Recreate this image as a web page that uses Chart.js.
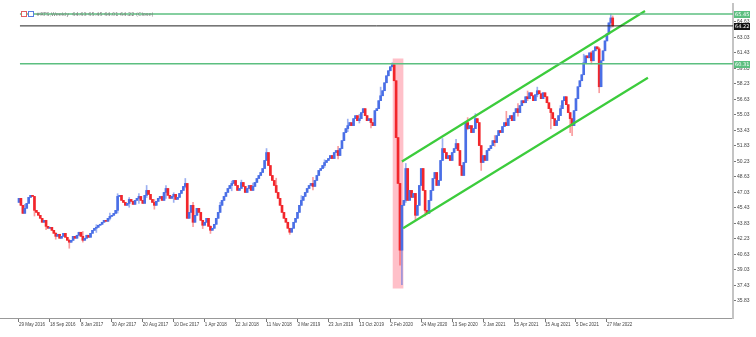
<!DOCTYPE html>
<html><head><meta charset="utf-8">
<script src="https://cdn.jsdelivr.net/npm/chart.js@4.4.0/dist/chart.umd.min.js"></script>
<style>html,body{margin:0;padding:0;background:#fff;}canvas{display:block;}</style>
</head><body>
<canvas id="c" width="756" height="337"></canvas>
<script>
// ---- data (weekly candles, week index 0 = 29 May 2016) ----
const firstOpen = 46.0;
const closes = [
46.42,45.70,44.87,45.39,45.90,46.52,46.73,46.62,45.18,44.97,44.67,
44.36,43.95,44.15,43.53,43.33,43.43,43.12,42.81,42.50,42.71,
42.30,42.50,42.81,42.40,42.09,41.89,42.09,42.50,42.30,42.61,
42.92,42.50,42.09,42.30,42.61,42.40,42.81,43.12,43.33,43.43,
43.64,43.74,43.95,44.15,44.05,44.36,44.56,44.67,44.87,45.18,
46.62,46.73,46.21,46.00,45.70,45.90,46.31,46.11,45.80,46.21,
46.42,46.62,46.21,45.90,46.73,47.24,46.83,46.31,46.00,45.70,
46.11,46.42,46.62,46.21,47.03,47.44,46.73,46.42,46.62,46.83,
46.31,46.52,46.93,47.24,47.65,47.96,44.36,44.97,45.70,43.95,
44.67,45.39,44.97,44.15,43.64,43.95,44.36,43.53,43.12,43.33,
43.74,44.36,44.97,45.70,46.21,46.62,47.03,47.44,47.75,47.96,
48.27,47.75,47.24,47.44,48.06,47.65,47.03,47.44,47.75,47.24,
47.65,48.06,48.47,48.78,49.09,49.50,50.33,51.15,49.81,48.78,
48.27,47.75,47.03,46.42,45.70,44.97,44.36,43.95,43.33,42.92,
43.33,43.95,44.36,44.97,45.70,46.21,46.62,47.03,47.44,47.75,
47.96,47.65,48.27,48.78,49.30,49.50,49.81,50.12,50.33,50.53,
50.84,50.53,51.15,51.36,50.84,51.56,52.38,53.21,53.62,53.93,
54.24,53.93,54.65,54.96,54.44,54.65,55.27,55.68,54.96,54.44,
54.65,54.24,53.93,55.47,55.68,56.50,57.01,57.53,58.35,59.07,
59.59,60.00,60.20,
58.56,52.69,47.96,41.07,45.70,46.21,49.50,46.21,47.24,46.52,
46.93,44.67,45.70,47.75,49.50,47.24,45.18,44.87,46.21,47.24,
48.47,49.09,47.75,48.27,50.33,51.56,51.15,50.53,50.84,50.33,
51.15,51.56,52.08,51.36,49.81,48.78,50.12,54.24,53.62,53.93,
53.21,53.62,54.65,54.24,51.87,50.12,50.84,50.33,51.36,
51.56,51.87,52.38,52.18,52.90,53.42,53.21,53.83,54.24,53.93,
54.65,54.96,54.44,55.27,55.68,55.27,55.99,56.50,
56.29,56.91,56.71,57.32,57.01,56.50,57.12,57.53,57.22,56.71,57.32,56.91,
56.29,55.68,55.27,54.65,53.93,54.44,54.96,55.68,56.50,56.91,
56.09,55.27,54.65,53.93,55.47,56.71,57.94,58.56,59.18,60.41,
61.13,60.93,61.44,60.62,61.65,62.06,61.85,57.94,60.62,61.65,
62.67,63.39,64.53,65.04,64.22
];
const wickWeeks = [3, 8, 14, 19, 26, 33, 40, 47, 51, 57, 62, 66, 70, 76, 80, 86, 90, 95, 99, 104, 110, 115, 121, 128, 133, 140, 146, 152, 158, 165, 170, 176, 182, 187, 193, 197, 198, 200, 205, 210, 219, 226, 232, 236, 239, 246, 252, 258, 263, 268, 275, 280, 285, 286, 292, 296, 300, 306, 307];
const wickLows  = [44.90, 44.60, 43.20, 42.20, 41.27, 41.90, 42.90, 44.20, 44.90, 45.50, 45.90, 46.50, 45.30, 46.40, 46.00, 47.50, 43.50, 43.30, 42.80, 45.20, 47.20, 47.60, 47.30, 50.80, 47.20, 42.70, 45.90, 47.30, 49.60, 50.50, 53.30, 54.20, 53.70, 56.60, 60.00, 39.52, 37.52, 46.00, 44.20, 44.60, 51.00, 51.60, 53.50, 54.40, 49.30, 51.80, 54.20, 54.90, 56.50, 56.90, 53.60, 55.20, 53.21, 52.90, 60.00, 60.30, 57.32, 64.00, 64.10];
const wickHighs = [45.80, 45.60, 43.90, 42.90, 42.20, 43.00, 43.70, 44.90, 46.90, 46.50, 46.90, 47.75, 46.30, 47.75, 47.00, 48.47, 46.00, 44.00, 43.60, 46.00, 48.20, 48.30, 48.00, 51.56, 48.50, 43.30, 46.70, 48.60, 50.40, 51.80, 54.60, 55.10, 54.60, 57.90, 60.41, 47.96, 45.70, 50.02, 45.90, 45.90, 52.59, 52.50, 54.75, 55.16, 51.87, 52.90, 55.40, 56.20, 57.50, 57.90, 54.90, 56.00, 55.27, 54.65, 61.30, 61.60, 62.00, 65.45, 65.25];

const tickWeeks  = [0,16,32,48,64,80,96,112,128,144,160,176,192,208,224,240,256,272,288,304];
const dateLabels = ["29 May 2016","18 Sep 2016","8 Jan 2017","30 Apr 2017","20 Aug 2017","10 Dec 2017","1 Apr 2018","22 Jul 2018","11 Nov 2018","3 Mar 2019","23 Jun 2019","13 Oct 2019","2 Feb 2020","24 May 2020","13 Sep 2020","3 Jan 2021","25 Apr 2021","15 Aug 2021","5 Dec 2021","27 Mar 2022"];
const yTicks = [64.63,63.03,61.43,59.83,58.23,56.63,55.03,53.43,51.83,50.23,48.63,47.03,45.43,43.83,42.23,40.63,39.03,37.43,35.83];

const greenLevels = [65.45, 60.31];
const blackLevels = [64.22];
const upperChannel = [{x:198.0, y:50.22}, {x:323.7, y:65.76}];
const lowerChannel = [{x:198.6, y:43.33}, {x:325.2, y:58.87}];
const highlightZone = {week:196.0, low:37.15, high:60.83};
const titleText = "#RTS,Weekly  64.63 65.45 64.01 64.22 (Close)";

// ---- build ----
const X_MIN = -9.82, X_MAX = 369.2, Y_MIN = 34.07, Y_MAX = 66.48;
const UP = '#4a6fe6', DOWN = '#f2262b';
const UP_W = 'rgba(74,111,230,0.55)', DOWN_W = 'rgba(242,38,43,0.45)';
const opens = closes.map((c, i) => i === 0 ? firstOpen : closes[i - 1]);
const bodies = closes.map((c, i) => ({x: i, y: [opens[i], c]}));
const wicks = closes.map((c, i) => {
  let lo = Math.min(opens[i], c), hi = Math.max(opens[i], c);
  const k = wickWeeks.indexOf(i);
  if (k >= 0) { lo = Math.min(lo, wickLows[k]); hi = Math.max(hi, wickHighs[k]); }
  return {x: i, y: [lo, hi]};
});
const isUp = i => closes[i] >= opens[i];
const hLine = (lvl, color, w) => ({
  type: 'line', data: [{x: 0.5, y: lvl}, {x: X_MAX, y: lvl}],
  borderColor: color, borderWidth: w, pointRadius: 0, order: 0, fill: false
});

const datasets = [
  {type: 'bar', data: [{x: highlightZone.week, y: [highlightZone.low, highlightZone.high]}],
   backgroundColor: 'rgba(255,150,165,0.6)', barThickness: 10, grouped: false, order: 10},
  {type: 'bar', data: wicks, backgroundColor: ctx => isUp(ctx.dataIndex) ? UP_W : DOWN_W,
   barThickness: 1, grouped: false, order: 2, minBarLength: 1},
  {type: 'bar', data: bodies, backgroundColor: ctx => isUp(ctx.dataIndex) ? UP : DOWN,
   barThickness: 2, grouped: false, order: 1, minBarLength: 1},
  ...greenLevels.map(l => hLine(l, '#5cbf80', 1.5)),
  ...blackLevels.map(l => hLine(l, '#222', 1)),
  {type: 'line', data: upperChannel, borderColor: '#3ccc3c', borderWidth: 2.2, pointRadius: 0, order: 0},
  {type: 'line', data: lowerChannel, borderColor: '#3ccc3c', borderWidth: 2.2, pointRadius: 0, order: 0}
];

const overlay = {
  id: 'overlay',
  afterDraw(chart) {
    const c = chart.ctx, ys = chart.scales.y;
    c.save();
    c.font = '5px "DejaVu Sans"';
    c.textBaseline = 'middle';
    const box = (lvl, bg) => {
      const py = Math.round(ys.getPixelForValue(lvl));
      c.fillStyle = bg; c.fillRect(734, py - 3, 16, 7);
      c.fillStyle = '#fff'; c.textAlign = 'left'; c.fillText(lvl.toFixed(2), 735, py + 0.5);
    };
    greenLevels.forEach(l => box(l, '#5cbf80'));
    blackLevels.forEach(l => box(l, '#111'));
    // title (drawn over the top level line, as in the terminal)
    const ty = Math.round(ys.getPixelForValue(greenLevels[0]));
    c.lineWidth = 1;
    c.fillStyle = '#fff';
    c.fillRect(21, ty - 3, 6, 6); c.fillRect(28, ty - 3, 6, 6);
    c.strokeStyle = '#e06060'; c.strokeRect(21.5, ty - 2.5, 5, 5);
    c.strokeStyle = '#5a7ee0'; c.strokeRect(28.5, ty - 2.5, 5, 5);
    c.fillStyle = '#777'; c.fillText(titleText, 36, ty + 0.5);
    c.restore();
  }
};

new Chart(document.getElementById('c'), {
  type: 'bar',
  data: {datasets},
  options: {
    responsive: false, animation: false, devicePixelRatio: 1,
    layout: {padding: {top: 3, left: 0, right: 0, bottom: 0}},
    plugins: {legend: {display: false}, tooltip: {enabled: false}},
    scales: {
      x: {
        type: 'linear', min: X_MIN, max: X_MAX, offset: false,
        afterBuildTicks: s => { s.ticks = tickWeeks.map(v => ({value: v})); },
        afterFit: s => { s.height = 19; },
        grid: {display: true, drawOnChartArea: false, drawTicks: true, tickLength: 4, color: '#777', offset: false},
        border: {display: true, color: '#999', width: 1},
        ticks: {autoSkip: false, maxRotation: 0, minRotation: 0, align: 'start', padding: 0,
                font: {size: 4.5, family: 'Liberation Sans'}, color: '#444',
                callback: (v, i) => dateLabels[i]}
      },
      y: {
        type: 'linear', position: 'right', min: Y_MIN, max: Y_MAX, beginAtZero: false,
        afterBuildTicks: s => { s.ticks = yTicks.map(v => ({value: v})); },
        afterFit: s => { s.width = 23; },
        grid: {display: true, drawOnChartArea: false, drawTicks: true, tickLength: 3, color: '#777'},
        border: {display: true, color: '#c4c4c4', width: 2},
        ticks: {padding: 1, font: {size: 5, family: 'Liberation Sans'}, color: '#444',
                callback: v => v.toFixed(2)}
      }
    }
  },
  plugins: [overlay]
});
</script>
</body></html>
